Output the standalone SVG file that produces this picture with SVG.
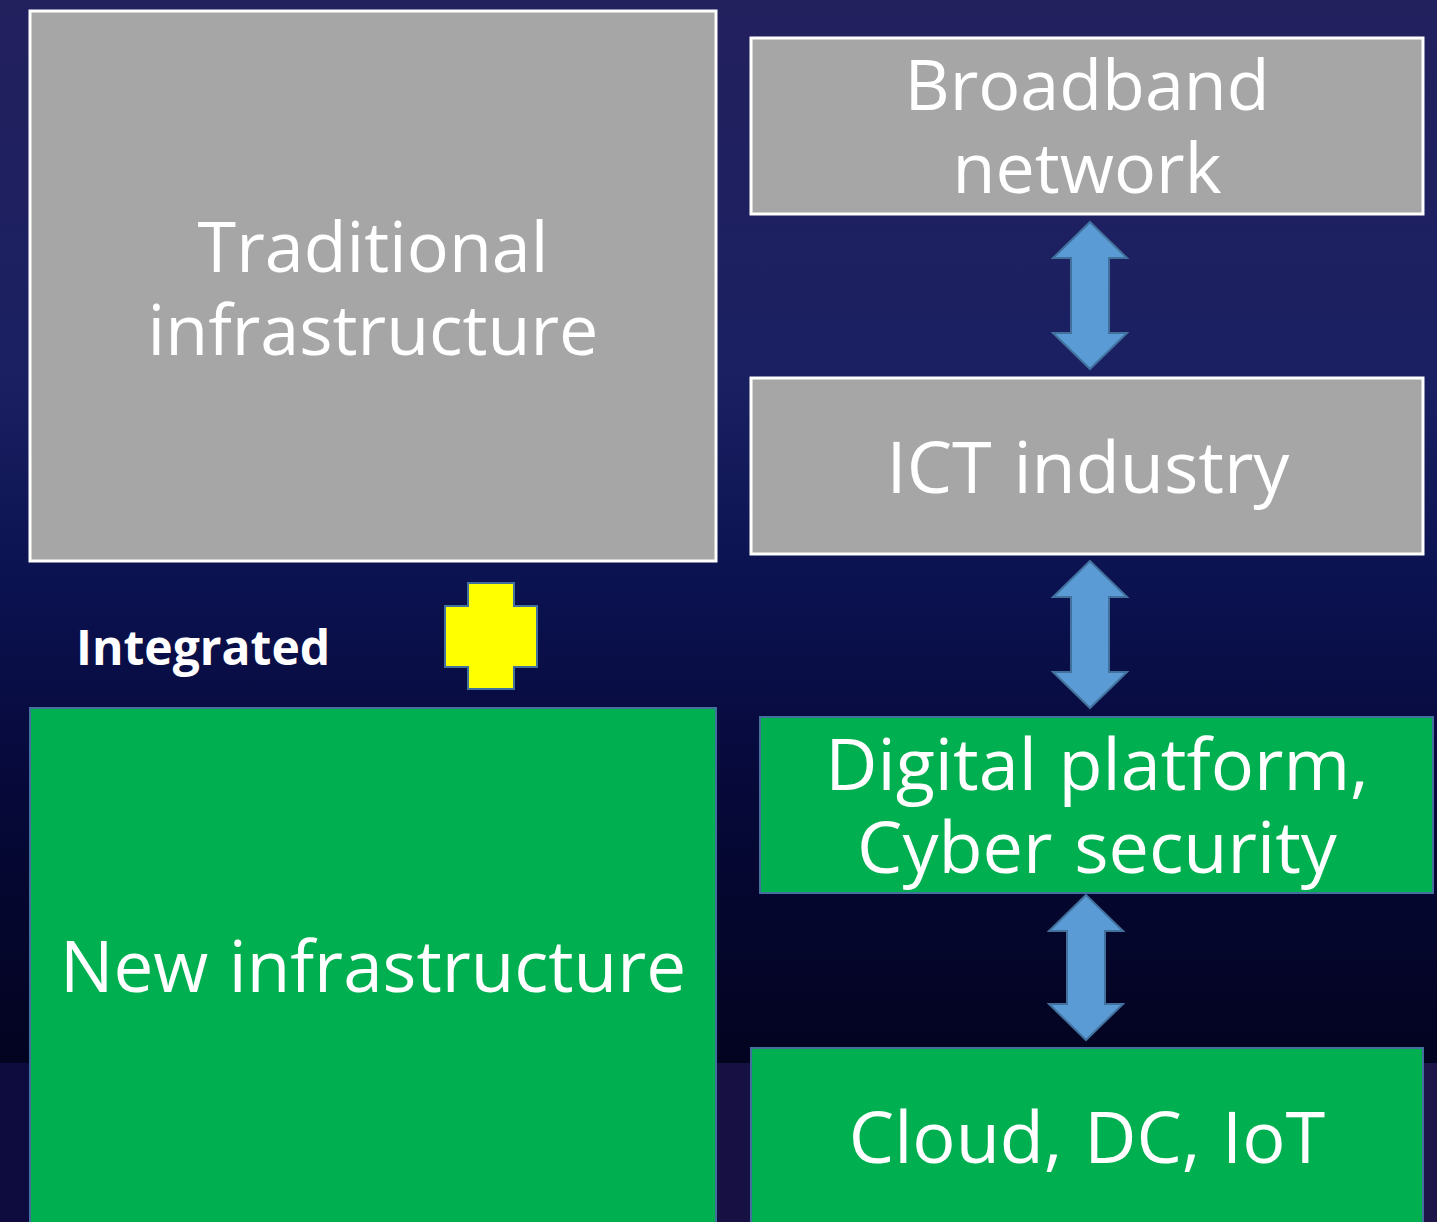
<svg xmlns="http://www.w3.org/2000/svg" width="1437" height="1222" viewBox="0 0 1437 1222">
<defs>
<linearGradient id="bg" x1="0" y1="0" x2="0" y2="1">
<stop offset="0" stop-color="#23205e"/>
<stop offset="0.35" stop-color="#1a2062"/>
<stop offset="0.55" stop-color="#0b1250"/>
<stop offset="0.75" stop-color="#060838"/>
<stop offset="1" stop-color="#030420"/>
</linearGradient>
<linearGradient id="band" x1="0" y1="0" x2="1" y2="0">
<stop offset="0" stop-color="#0e0b3e"/>
<stop offset="1" stop-color="#1e1548"/>
</linearGradient>
<style>
.gray{fill:#a6a6a6;stroke:#ffffff;stroke-width:3}
.green{fill:#00b050;stroke:#41719c;stroke-width:2}
.t{font-family:"Open Sans","Noto Sans","Liberation Sans",sans-serif;fill:#ffffff;text-anchor:middle;font-size:70px}
.w{font-size:72px;word-spacing:3px}
.n{font-size:71px;word-spacing:2px}
.arrow{fill:#5b9bd5;stroke:#41719c;stroke-width:2}
</style>
</defs>
<rect x="0" y="0" width="1437" height="1063" fill="url(#bg)"/>
<rect x="0" y="1063" width="1437" height="159" fill="url(#band)"/>

<g id="traditional">
<rect class="gray" x="30" y="11" width="686" height="550"/>
<text class="t" x="373" y="272">Traditional</text>
<text class="t" x="373" y="355">infrastructure</text>
</g>
<g id="broadband">
<rect class="gray" x="751" y="38" width="672" height="176"/>
<text class="t" x="1087" y="110">Broadband</text>
<text class="t" x="1087" y="193">network</text>
</g>
<g id="ict">
<rect class="gray" x="751" y="378" width="672" height="176"/>
<text class="t w" x="1088" y="493">ICT industry</text>
</g>
<g id="integrated">
<text x="76" y="665" font-family="'Open Sans','Noto Sans','Liberation Sans',sans-serif" font-weight="bold" font-size="48" fill="#ffffff">Integrated</text>
<path d="M468,583 H514 V606 H537 V667 H514 V689 H468 V667 H445 V606 H468 Z" fill="#ffff00" stroke="#41719c" stroke-width="2"/>
</g>
<g id="new">
<rect class="green" x="30" y="708" width="686" height="530"/>
<text class="t n" x="373" y="992">New infrastructure</text>
</g>
<g id="digital">
<rect class="green" x="760" y="717" width="673" height="176"/>
<text class="t w" x="1097" y="790">Digital platform,</text>
<text class="t w" x="1097" y="873">Cyber security</text>
</g>
<g id="cloud">
<rect class="green" x="751" y="1048" width="672" height="190"/>
<text class="t w" x="1087" y="1163">Cloud, DC, IoT</text>
</g>
<g id="connectors">
<path class="arrow" d="M1090,222 L1127,258 H1109 V333 H1127 L1090,369 L1053,333 H1071 V258 H1053 Z"/>
<path class="arrow" d="M1090,561 L1127,597 H1109 V672 H1127 L1090,708 L1053,672 H1071 V597 H1053 Z"/>
<path class="arrow" d="M1086,895 L1123,931 H1105 V1004 H1123 L1086,1040 L1049,1004 H1067 V931 H1049 Z"/>
</g>
</svg>
